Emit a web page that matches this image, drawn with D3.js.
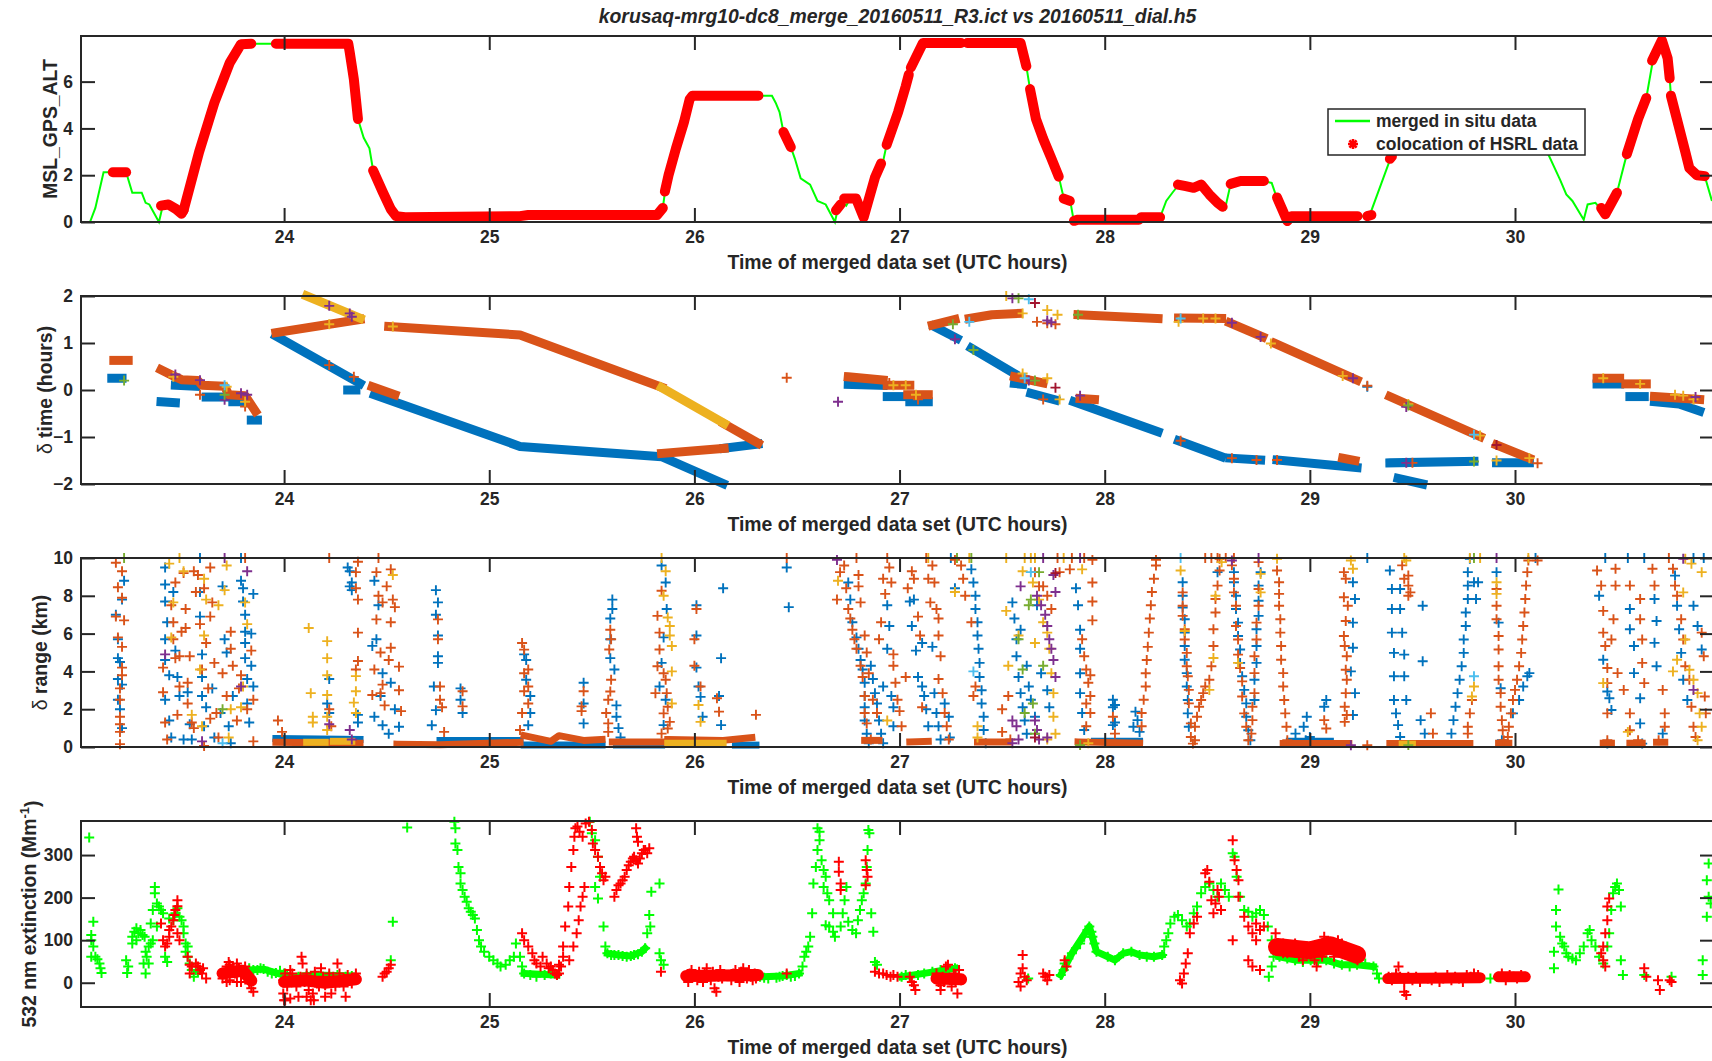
<!DOCTYPE html>
<html>
<head>
<meta charset="utf-8">
<script src="https://cdn.jsdelivr.net/npm/d3@7"></script>
<style>
html,body{margin:0;padding:0;background:#fff;}
svg{display:block;}
text{font-family:"Liberation Sans",Arial,Helvetica,sans-serif;font-weight:bold;fill:#262626;}
</style>
</head>
<body>
<svg id="chart" width="1712" height="1061"></svg>
<script>
// ---------------- texts & ticks ----------------
const chartTitle = "korusaq-mrg10-dc8_merge_20160511_R3.ict vs 20160511_dial.h5";
const xLabel = "Time of merged data set (UTC hours)";
const timeTicks = [24,25,26,27,28,29,30];
const timeRange = [23.01, 30.97];
const altTicks = [0,2,4,6];        const altRange = [0,7.95];
const dtTicks = [-2,-1,0,1,2];     const dtRange = [-2,2];
const rangeTicks = [0,2,4,6,8,10]; const rangeRange = [0,10];
const extTicks = [0,100,200,300];  const extRange = [-57,380];
const legendLabels = ["merged in situ data","colocation of HSRL data"];

// ---------------- panel 1: altitude ----------------
const altProfile = [[23.011,0],[23.054,0],[23.08,0.6],[23.12,2.13],[23.23,2.13],[23.26,1.25],[23.306,1.25],[23.325,0.82],[23.343,0.75],[23.39,0],[23.41,0.75],[23.436,0.75],[23.474,0.55],[23.5,0.35],[23.51,0.5],[23.586,3.0],[23.66,5.1],[23.735,6.8],[23.79,7.6],[23.856,7.62],[23.96,7.62],[24.313,7.62],[24.32,7.25],[24.34,6.1],[24.36,4.4],[24.388,3.6],[24.416,3.15],[24.434,2.2],[24.48,1.3],[24.52,0.55],[24.546,0.25],[24.59,0.2],[25.15,0.25],[25.19,0.3],[25.818,0.3],[25.846,0.6],[25.856,1.24],[25.874,2.0],[25.91,3.14],[25.949,4.26],[25.977,5.25],[25.99,5.4],[26.312,5.4],[26.378,5.4],[26.396,5.1],[26.415,4.7],[26.434,3.85],[26.47,3.2],[26.49,2.7],[26.518,1.87],[26.564,1.6],[26.6,0.9],[26.64,0.75],[26.685,0],[26.7,0.6],[26.713,0.9],[26.74,0.7],[26.76,1.0],[26.788,1.0],[26.825,0.2],[26.88,1.9],[26.92,2.6],[26.937,3.3],[26.993,4.7],[27.03,5.8],[27.05,6.4],[27.114,7.65],[27.59,7.65],[27.618,6.66],[27.636,5.68],[27.665,4.4],[27.7,3.56],[27.74,2.72],[27.776,1.94],[27.8,1.03],[27.832,0.9],[27.85,0],[27.87,0.1],[28.167,0.1],[28.177,0.2],[28.27,0.2],[28.3,0.9],[28.33,1.25],[28.357,1.55],[28.395,1.53],[28.433,1.46],[28.47,1.6],[28.51,1.18],[28.55,0.82],[28.586,0.54],[28.614,1.63],[28.662,1.75],[28.776,1.75],[28.814,1.67],[28.833,1.18],[28.89,0.04],[28.91,0.25],[29.232,0.25],[29.29,0.25],[29.394,2.74],[29.45,3.5],[29.7,4.3],[30.05,4.0],[30.164,2.86],[30.22,1.8],[30.25,1.18],[30.28,0.9],[30.335,0.1],[30.354,0.75],[30.392,0.82],[30.44,0.33],[30.497,1.25],[30.545,2.9],[30.6,4.4],[30.64,5.3],[30.668,6.7],[30.716,7.77],[30.744,7.0],[30.754,6.14],[30.76,5.4],[30.83,3.0],[30.85,2.3],[30.887,2.0],[30.925,1.96],[30.96,0.9]];

const hsrlSegments = [
 [[23.165,2.13],[23.23,2.13]],
 [[23.40,0.7],[23.436,0.75],[23.474,0.55],[23.5,0.35],[23.51,0.5]],
 [[23.51,0.5],[23.586,3.0],[23.66,5.1],[23.735,6.8],[23.79,7.6],[23.84,7.62]],
 [[23.96,7.62],[24.313,7.62],[24.32,7.25],[24.34,6.1],[24.36,4.4]],
 [[24.434,2.2],[24.48,1.3],[24.52,0.55],[24.546,0.25],[24.59,0.2],[25.15,0.25],[25.19,0.3],[25.818,0.3],[25.846,0.6]],
 [[25.856,1.3],[25.874,2.0],[25.91,3.14],[25.949,4.26],[25.977,5.25],[25.99,5.4],[26.312,5.4]],
 [[26.434,3.85],[26.47,3.2]],
 [[26.69,0.5],[26.713,0.75]],
 [[26.73,1.0],[26.788,1.0],[26.825,0.2],[26.88,1.9],[26.91,2.5]],
 [[26.937,3.3],[26.993,4.7],[27.03,5.8],[27.045,6.3]],
 [[27.055,6.6],[27.114,7.65],[27.3,7.65]],
 [[27.33,7.65],[27.59,7.65],[27.618,6.66]],
 [[27.636,5.68],[27.665,4.4],[27.7,3.56],[27.74,2.72],[27.776,1.94]],
 [[27.8,1.0],[27.83,0.9]],
 [[27.85,0.05],[27.87,0.1],[28.167,0.1],[28.177,0.2],[28.27,0.2]],
 [[28.357,1.6],[28.395,1.53],[28.433,1.46],[28.47,1.6],[28.51,1.18],[28.55,0.82],[28.575,0.65]],
 [[28.614,1.63],[28.662,1.75],[28.776,1.75]],
 [[28.84,1.05],[28.89,0.04],[28.91,0.25],[29.232,0.25]],
 [[29.28,0.25],[29.3,0.3]],
 [[29.39,2.7],[29.40,2.8]],
 [[30.42,0.6],[30.44,0.33],[30.497,1.25]],
 [[30.545,2.9],[30.6,4.4],[30.64,5.3]],
 [[30.668,6.9],[30.716,7.77],[30.744,7.0],[30.754,6.14]],
 [[30.76,5.4],[30.83,3.0],[30.85,2.3],[30.887,2.0],[30.925,1.96]]
];

// ---------------- panel 2: delta time ----------------
const dtBlueBands = [
 [[23.16,0.25],[23.21,0.25]],
 [[23.40,-0.25],[23.47,-0.27]],
 [[23.47,0.1],[23.57,0.08]],
 [[23.62,-0.15],[23.72,-0.15]],
 [[23.75,-0.25],[23.80,-0.25]],
 [[23.84,-0.64],[23.87,-0.64]],
 [[23.96,1.15],[24.37,0.14]],
 [[24.31,0.0],[24.35,0.0]],
 [[24.44,-0.1],[25.15,-1.2],[25.84,-1.42],[26.14,-1.99]],
 [[26.145,-1.24],[26.31,-1.15]],
 [[26.75,0.12],[26.92,0.1]],
 [[26.94,-0.14],[27.04,-0.14]],
 [[27.05,-0.25],[27.14,-0.25]],
 [[27.17,1.35],[27.28,1.1]],
 [[27.35,0.89],[27.56,0.35]],
 [[27.56,0.14],[27.6,0.12]],
 [[27.64,-0.07],[27.76,-0.21]],
 [[27.85,-0.25],[28.26,-0.89]],
 [[28.36,-1.08],[28.57,-1.42]],
 [[28.61,-1.45],[28.76,-1.49]],
 [[28.84,-1.49],[29.23,-1.65]],
 [[29.39,-1.55],[29.80,-1.52]],
 [[29.43,-1.88],[29.55,-2.0]],
 [[29.91,-1.55],[30.07,-1.55]],
 [[30.40,0.13],[30.51,0.13]],
 [[30.56,-0.14],[30.63,-0.14]],
 [[30.68,-0.25],[30.80,-0.3],[30.9,-0.45]]
];
const dtOrangeBands = [
 [[23.17,0.63],[23.24,0.63]],
 [[23.40,0.43],[23.46,0.3],[23.5,0.22],[23.58,0.2],[23.6,0.1],[23.71,0.08],[23.73,-0.1],[23.81,-0.12],[23.86,-0.45]],
 [[23.96,1.22],[24.37,1.5]],
 [[24.43,0.07],[24.54,-0.1]],
 [[24.51,1.35],[25.15,1.17],[25.84,0.06]],
 [[25.84,-1.35],[26.145,-1.24]],
 [[26.145,-0.72],[26.31,-1.13]],
 [[26.75,0.28],[26.92,0.21]],
 [[26.94,0.1],[27.05,0.1]],
 [[27.04,-0.1],[27.14,-0.1]],
 [[27.16,1.38],[27.27,1.5]],
 [[27.34,1.52],[27.45,1.6],[27.58,1.63]],
 [[27.56,0.28],[27.7,0.15]],
 [[27.87,1.6],[28.26,1.52]],
 [[27.88,-0.18],[27.95,-0.2]],
 [[28.36,1.53],[28.57,1.52]],
 [[28.61,1.43],[28.77,1.13]],
 [[28.83,0.99],[29.23,0.21]],
 [[29.16,-1.45],[29.22,-1.5]],
 [[29.39,-0.14],[29.83,-0.99]],
 [[29.91,-1.17],[30.07,-1.45]],
 [[30.40,0.25],[30.51,0.25]],
 [[30.54,0.13],[30.64,0.13]],
 [[30.68,-0.14],[30.9,-0.2]]
];
const dtYellowBands = [
 [[24.11,2.0],[24.37,1.53]],
 [[25.84,0.05],[26.145,-0.71]]
];
const dtBluePts = [[29.28,0.07]];
const dtOrangePts = [[23.59,-0.1],[23.81,-0.35],[24.22,0.53],[24.34,0.28],[26.45,0.26],[26.95,0.15],[27.09,-0.2],[27.7,-0.2],[29.28,0.09],[28.37,-1.08],[28.62,-1.45],[28.74,-1.49],[28.84,-1.49],[30.11,-1.56],[29.5,-1.55],[27.67,1.45],[27.72,1.42],[27.76,1.4]];
const dtYellowPts = [[23.46,0.28],[23.72,0.07],[23.81,-0.25],[24.22,1.4],[24.53,1.35],[27.52,2.0],[27.72,1.7],[27.77,1.6],[27.6,0.35],[27.72,0.25],[27.78,-0.2],[28.36,1.45],[28.48,1.52],[28.54,1.52],[28.81,0.99],[29.16,0.3],[29.48,-0.3],[29.83,-0.97],[29.91,-1.5],[30.07,-1.45],[30.43,0.25],[30.61,0.13],[30.78,-0.1],[30.82,-0.12],[30.87,-0.2],[26.97,0.1],[27.08,-0.1],[27.03,0.1],[27.6,1.63]];
const dtPurplePts = [[23.47,0.33],[23.59,0.21],[23.71,-0.21],[23.79,-0.07],[23.82,-0.1],[24.22,1.79],[24.32,1.63],[24.33,1.56],[26.70,-0.25],[27.27,1.08],[27.55,1.95],[27.63,0.2],[27.72,1.48],[27.74,1.44],[27.88,-0.12],[28.62,1.43],[28.76,1.13],[29.21,0.25],[29.47,-0.36],[29.47,-1.55],[30.88,-0.15]];
const dtGreenPts = [[23.22,0.2],[23.71,-0.1],[27.26,1.4],[27.36,0.85],[27.58,1.95],[27.66,0.2],[27.87,1.6],[29.48,-0.33],[29.8,-1.52]];
const dtCyanPts = [[23.71,0.1],[27.34,1.45],[27.63,1.93],[27.61,0.25],[28.37,1.52],[29.8,-0.95]];
const dtDarkRedPts = [[27.66,1.85],[27.76,0.05],[29.91,-1.17]];

// ---------------- panel 3: delta range ----------------
const rangeBlueBands = [
 [[23.96,0.45],[24.37,0.4]],[[24.76,0.35],[25.15,0.35]],[[25.17,0.1],[25.55,0.1]],[[25.62,0.1],[25.84,0.1]],[[26.2,0.1],[26.3,0.1]],[[27.95,0.3],[28.17,0.3]],[[28.9,0.3],[29.1,0.3]]
];
const rangeOrangeBands = [
 [[23.96,0.25],[24.37,0.2]],[[24.55,0.15],[24.76,0.12],[25.15,0.25]],[[25.17,0.6],[25.3,0.3],[25.34,0.6],[25.46,0.35],[25.55,0.4]],[[25.6,0.27],[25.84,0.27]],[[25.87,0.4],[26.14,0.35],[26.28,0.5]],[[26.83,0.35],[26.9,0.35]],[[27.05,0.27],[27.14,0.3]],[[27.38,0.27],[27.53,0.27]],[[27.87,0.27],[28.17,0.2]],[[28.87,0.18],[29.19,0.18]],[[29.39,0.18],[29.78,0.18]],[[29.92,0.2],[29.97,0.2]],[[30.43,0.2],[30.47,0.2]],[[30.56,0.2],[30.62,0.2]],[[30.69,0.25],[30.73,0.25]]
];
const rangeYellowBands = [
 [[24.11,0.25],[24.2,0.25]],[[24.24,0.3],[24.33,0.3]],[[25.87,0.2],[26.14,0.2]],[[29.45,0.15],[29.5,0.15]]
];
const rangeBluePts = [
 [23.22,8.8],[23.21,7.8],[23.18,7.0],[23.19,5.7],[23.19,4.7],[23.2,4.5],[23.19,3.6],[23.21,3.3],[23.19,2.5],[23.2,2.0],[23.21,1.0],
 [23.42,9.5],[23.42,8.6],[23.42,7.7],[23.43,6.6],[23.42,5.7],[23.42,4.6],[23.44,3.8],[23.42,2.5],[23.44,1.4],[23.45,0.5],[23.46,8.2],[23.47,5.1],[23.48,3.7],[23.49,2.7],[23.51,0.4],[23.53,2.9],[23.54,1.2],[23.55,0.4],[23.59,10],[23.59,8.2],[23.59,6.9],[23.6,4.9],[23.6,3.7],[23.6,2.7],[23.61,1.1],[23.62,2.1],[23.65,3.1],[23.66,0.5],[23.69,1.8],[23.7,8.5],[23.71,5.7],[23.72,5.0],[23.73,1.1],[23.74,0.2],[23.75,2.7],[23.79,10],[23.79,8.8],[23.8,8.4],[23.8,7.7],[23.81,7.0],[23.81,6.1],[23.81,5.5],[23.81,4.7],[23.82,3.6],[23.82,2.3],[23.83,1.3],[23.84,6.0],[23.84,4.3],[23.85,8.1],[23.85,3.2],
 [24.22,3.6],[24.21,2.3],[24.22,1.8],[24.36,1.7],[24.36,1.3],[24.31,9.5],[24.32,9.3],[24.33,8.7],[24.32,8.5],[24.33,8.3],
 [24.44,8.8],[24.46,7.5],[24.43,5.35],[24.45,5.7],[24.48,3.9],[24.47,2.7],[24.52,3.4],[24.54,2.0],[24.56,1.07],[24.51,0.7],[24.44,1.6],[24.48,1.15],
 [24.74,8.3],[24.75,7.65],[24.74,7.0],[24.75,5.9],[24.75,4.8],[24.75,4.45],[24.73,3.2],[24.74,1.95],[24.72,1.15],
 [24.86,3.1],[24.86,2.5],[24.87,1.8],
 [25.17,4.9],[25.18,4.6],[25.18,3.56],[25.2,2.7],[25.2,1.8],[25.19,1.15],
 [25.46,3.4],[25.46,2.3],[25.46,1.25],
 [25.6,7.8],[25.6,7.3],[25.59,6.8],[25.59,5.7],[25.59,4.7],[25.61,4.1],[25.62,2.2],[25.62,1.6],[25.63,1.0],[25.64,0.5],
 [25.84,9.6],[25.86,8.7],[25.865,7.3],[25.85,5.8],[25.84,4.45],[25.83,3.2],[25.86,2.5],[25.85,1.16],
 [26.01,7.5],[26.01,5.9],[26.01,4.2],[26.02,3.2],[26.03,2.65],[26.04,1.6],
 [26.14,8.4],[26.13,4.7],[26.12,2.7],[26.13,1.16],
 [26.45,9.5],[26.46,7.4],
 [26.75,8.7],[26.76,7.8],[26.77,6.6],[26.79,5.8],[26.8,5.2],[26.81,4.6],[26.82,4.1],[26.83,3.4],[26.83,2.7],[26.83,2.1],[26.83,1.4],[26.84,0.7],[26.85,0.2],[26.86,4.3],[26.87,3.6],[26.88,2.85],[26.89,2.3],[26.9,1.4],[26.91,0.7],[26.92,0.2],[26.94,7.5],[26.95,6.4],[26.94,5.2],[26.92,3.2],[26.96,2.7],[26.97,2.1],[26.97,1.1],[27.05,7.7],[27.06,6.4],[27.07,7.8],[27.08,5.1],[27.09,3.7],[27.11,5.5],[27.11,3.2],[27.12,2.7],[27.13,2.0],[27.14,1.1],[27.16,5.3],[27.17,2.85],[27.18,1.8],[27.19,1.1],[27.2,0.4],[27.22,2.3],[27.24,1.6],[27.245,0.5],[27.25,10],[27.27,8.4],
 [27.35,9.4],[27.36,8.7],[27.37,8.0],[27.37,7.3],[27.38,6.6],[27.38,5.9],[27.385,5.2],[27.39,4.45],[27.39,3.7],[27.4,3.0],[27.4,2.3],[27.41,1.6],[27.41,0.9],[27.42,0.2],
 [27.55,7.65],[27.56,6.8],[27.57,5.7],[27.57,4.8],[27.58,3.7],[27.59,2.85],[27.6,2.1],[27.61,1.4],[27.62,0.7],[27.63,3.2],[27.64,2.5],[27.59,6.2],[27.62,4.3],[27.67,7.5],[27.69,3.9],[27.72,3.0],[27.73,2.1],[27.66,1.6],
 [27.86,8.4],[27.87,7.5],[27.88,6.2],[27.88,5.2],[27.88,3.9],[27.88,2.85],[27.89,1.8],[27.9,0.9],[28.04,2.5],[28.04,2.1],[28.05,1.3],
 [28.05,2.22],[28.04,1.16],[28.15,1.87],[28.16,1.42],[28.17,0.8],[28.14,1.07],
 [28.38,8.72],[28.38,8.0],[28.38,7.38],[28.39,6.76],[28.39,6.05],[28.39,5.34],[28.39,4.62],[28.4,3.91],[28.4,3.2],[28.405,2.49],[28.405,1.78],[28.41,1.07],[28.55,9.25],
 [28.63,9.25],[28.63,8.72],[28.64,8.0],[28.64,7.3],[28.65,6.58],[28.65,5.87],[28.66,5.16],[28.66,4.45],[28.67,3.74],[28.68,3.02],[28.69,2.31],[28.69,1.6],[28.7,0.89],[28.71,0.36],
 [28.76,9.25],[28.75,8.54],[28.75,7.74],[28.75,6.94],[28.74,6.23],[28.74,5.34],[28.74,4.45],[28.73,3.56],[28.73,2.49],
 [28.93,0.71],[28.97,1.07],[28.985,1.6],[28.98,0.36],[29.0,0.53],[29.08,2.49],[29.07,2.13],
 [29.21,8.72],[29.22,7.83],[29.21,6.58],[29.21,5.25],[29.2,4.0],[29.22,2.85],[29.21,1.69],
 [29.28,10],[29.39,9.34],[29.4,8.36],[29.4,7.3],[29.4,6.05],[29.41,4.98],[29.41,3.74],[29.41,2.49],[29.42,1.78],[29.43,1.16],[29.44,0.53],[29.44,7.3],[29.45,6.05],[29.46,4.89],[29.46,3.74],[29.47,2.49],[29.44,8.36],[29.55,7.47],[29.55,4.54],[29.54,1.42],[29.56,0.71],
 [29.69,0.71],[29.7,1.42],[29.71,2.13],[29.72,2.85],[29.73,3.56],[29.74,4.27],[29.75,4.98],[29.75,5.69],[29.76,6.4],[29.76,7.12],[29.77,7.83],[29.77,8.54],[29.77,9.25],[29.78,9.96],[29.8,8.72],[29.81,7.83],[29.82,8.72],
 [29.91,9.25],[29.92,6.58],[29.93,3.11],[29.936,0.36],
 [29.99,1.78],[30.02,2.49],[30.04,3.2],[30.06,3.74],[30.07,3.91],[30.1,10],
 [30.44,10],[30.55,10],[30.63,10],[30.41,8.0],[30.43,4.62],[30.45,2.94],[30.46,2.58],[30.47,1.96],[30.45,0.18],[30.56,7.3],[30.56,6.23],[30.58,5.34],[30.58,3.91],[30.61,2.58],[30.61,1.25],[30.62,0.18],[30.68,7.83],[30.69,6.67],[30.68,5.51],[30.69,4.27],[30.72,0.71],[30.78,9.07],[30.79,7.47],[30.8,6.23],[30.81,4.98],[30.82,3.56],[30.84,2.49],[30.87,7.47],[30.89,6.4],[30.91,5.16],[30.92,10],[30.87,10]
];
const rangeOrangePts = [
 [23.18,9.75],[23.19,8.45],[23.21,9.3],[23.21,7.9],[23.22,6.7],[23.18,6.9],[23.19,5.8],[23.21,5.3],[23.21,4.2],[23.21,3.8],[23.2,3.1],[23.2,2.5],[23.2,1.6],[23.2,1.2],[23.2,0.8],[23.2,0.15],
 [23.41,4.2],[23.41,2.9],[23.42,1.3],[23.43,0.4],[23.45,7.5],[23.46,6.6],[23.46,5.7],[23.47,8.7],[23.47,4.7],[23.48,1.7],[23.49,3.2],[23.5,6.1],[23.51,9.2],[23.52,7.3],[23.52,6.3],[23.53,2.3],[23.53,3.4],[23.54,4.8],[23.55,1.3],[23.56,1.0],[23.57,8.2],[23.58,9.1],[23.59,6.5],[23.6,4.1],[23.61,0.05],[23.62,5.5],[23.63,3.1],[23.64,9.5],[23.64,6.9],[23.65,7.65],[23.66,4.45],[23.67,1.8],[23.68,0.5],[23.7,3.9],[23.72,2.7],[23.74,5.2],[23.74,6.1],[23.75,4.3],[23.77,1.4],[23.78,3.1],[23.79,3.8],[23.81,10],[23.82,2.0],[23.84,5.1],[23.85,2.5],[23.85,0.3],[23.49,4.8],[23.64,1.5],[23.61,8.4],[23.56,9.3],
 [23.97,1.4],[23.99,0.8],[24.22,10],[24.22,2.0],[24.23,1.1],[24.36,6.05],[24.36,4.55],[24.35,4.1],[24.36,9.8],[24.35,9.25],[24.35,8.4],[24.36,7.8],
 [24.46,10],[24.45,9.25],[24.46,8.0],[24.48,7.65],[24.5,8.5],[24.52,9.4],[24.53,7.8],[24.54,7.4],[24.45,6.75],[24.52,6.6],[24.52,5.25],[24.47,5.0],[24.44,4.1],[24.48,3.3],[24.47,2.85],[24.43,2.75],[24.51,4.6],[24.56,3.0],[24.57,1.9],[24.56,4.25],[24.49,2.2],
 [24.75,6.75],[24.75,5.7],[24.76,3.2],[24.77,2.1],[24.78,0.8],[24.76,2.5],
 [24.87,2.95],[24.87,2.15],
 [25.16,5.5],[25.17,5.15],[25.17,3.9],[25.17,2.95],[25.16,1.8],[25.15,0.9],[25.19,4.1],[25.19,3.2],[25.19,2.3],
 [25.46,2.95],[25.45,2.15],[25.45,1.9],
 [25.59,6.2],[25.594,5.7],[25.585,5.16],[25.594,3.56],[25.59,2.94],[25.58,2.5],[25.57,1.8],[25.58,1.25],[25.58,0.8],
 [25.84,8.27],[25.82,6.94],[25.83,6.05],[25.83,5.16],[25.82,4.27],[25.81,2.85],[25.85,3.9],[25.86,3.56],[25.865,2.85],[25.87,2.13],[25.88,1.33],[25.87,0.98],[25.85,1.78],[25.84,0.71],
 [26.01,7.3],[26.0,5.7],[26.0,4.3],[26.03,3.2],[26.12,1.87],[26.11,2.58],[26.3,1.7],[26.45,10],
 [26.695,7.8],[26.71,9.25],[26.73,9.6],[26.74,8.4],[26.75,7.3],[26.76,6.8],[26.77,6.2],[26.78,5.7],[26.79,5.2],[26.81,4.3],[26.82,3.7],[26.83,2.7],[26.83,1.8],[26.84,1.25],[26.86,0.4],[26.79,10],[26.8,9.1],[26.8,8.5],[26.81,7.65],[26.83,5.9],[26.84,5.0],[26.85,3.9],[26.87,2.5],[26.89,1.8],[26.9,5.7],[26.91,6.6],[26.92,8.9],[26.93,8.1],[26.94,10],[26.95,9.5],[26.96,8.7],[26.97,4.9],[26.97,4.3],[26.98,3.4],[26.99,2.5],[27.0,1.9],[27.01,1.1],[27.03,3.7],[27.04,8.4],[27.06,9.3],[27.07,8.9],[27.09,6.9],[27.1,5.9],[27.11,2.1],[27.13,10],[27.14,8.9],[27.15,7.65],[27.16,9.6],[27.17,8.7],[27.18,7.3],[27.19,6.8],[27.19,5.9],[27.2,4.8],[27.19,3.6],[27.21,2.85],[27.22,1.8],[27.23,1.1],[27.24,0.4],[27.27,9.9],[27.3,9.6],[27.31,8.9],[27.32,8.0],[27.35,6.6],[27.36,2.7],[27.37,3.2],[27.5,2.0],[27.5,0.8],[27.53,2.7],[27.54,0.4],[27.66,9.25],[27.68,8.5],[27.7,8.5],[27.72,8.0],[27.74,7.3],[27.77,10],[27.78,9.25],[27.89,5.7],[27.9,4.8],[27.91,4.1],[27.92,3.4],[27.93,2.7],[27.93,1.8],[27.91,1.1],[27.94,9.9],[27.94,8.7],[27.94,7.7],[27.94,6.7],[27.93,3.8],[27.91,2.3],[27.9,10],[27.83,9.4],[27.84,10],
 [28.04,1.6],[28.05,0.71],
 [28.18,1.1],[28.18,1.8],[28.19,2.5],[28.2,3.2],[28.2,3.9],[28.205,4.6],[28.21,5.3],[28.215,6.05],[28.22,6.8],[28.225,7.5],[28.23,8.2],[28.24,8.9],[28.25,9.6],[28.25,9.9],
 [28.38,8.18],[28.38,7.47],[28.38,6.94],[28.39,6.23],[28.39,5.69],[28.4,4.98],[28.4,4.27],[28.405,3.74],[28.41,3.02],[28.41,2.31],[28.42,1.25],[28.42,0.53],[28.43,0.18],[28.44,0.36],
 [28.44,1.07],[28.45,1.6],[28.46,2.13],[28.47,2.49],[28.48,2.85],[28.49,3.2],[28.51,3.56],[28.52,4.27],[28.53,5.34],[28.53,6.23],[28.54,7.12],[28.54,7.83],[28.55,8.54],[28.56,9.34],[28.56,9.96],
 [28.49,10],[28.52,10],[28.55,10],[28.59,10],[28.63,10],
 [28.62,9.61],[28.63,8.9],[28.63,8.18],[28.64,7.47],[28.64,6.4],[28.65,5.69],[28.65,4.89],[28.66,4.18],[28.67,3.47],[28.67,2.67],[28.68,1.78],[28.69,1.07],[28.7,0.36],
 [28.75,9.78],[28.75,8.36],[28.75,7.47],[28.74,6.58],[28.74,5.69],[28.73,4.8],[28.73,3.91],[28.73,2.85],[28.72,2.13],[28.72,1.42],[28.715,0.71],
 [28.84,9.34],[28.85,8.72],[28.85,8.1],[28.85,7.47],[28.856,6.76],[28.856,6.05],[28.86,5.34],[28.86,4.62],[28.87,3.91],[28.87,3.2],[28.875,2.49],[28.88,1.78],[28.886,1.07],[28.89,0.36],
 [29.07,1.42],[29.08,0.98],
 [29.166,9.25],[29.175,8.9],[29.166,7.92],[29.185,7.47],[29.175,6.67],[29.166,5.87],[29.17,5.34],[29.18,4.8],[29.175,4.09],[29.18,3.56],[29.175,2.85],[29.17,2.13],[29.18,1.69],[29.17,1.33],[29.28,0.09],
 [29.45,9.61],[29.48,9.07],[29.48,8.54],[29.48,8.0],[29.46,8.9],[29.49,8.18],[29.59,1.78],[29.6,0.71],
 [29.77,1.07],[29.78,1.78],[29.79,2.49],[29.77,0.71],
 [29.91,8.36],[29.91,7.47],[29.91,6.76],[29.92,5.87],[29.92,5.16],[29.92,4.27],[29.92,3.56],[29.93,2.85],[29.93,2.13],[29.936,1.42],[29.94,0.89],[29.945,0.36],
 [29.965,0.53],[29.97,1.07],[29.98,1.78],[29.99,2.49],[30.0,3.02],[30.01,3.56],[30.02,4.27],[30.03,4.98],[30.035,5.69],[30.04,6.4],[30.046,7.12],[30.05,7.83],[30.054,8.54],[30.06,9.25],[30.065,9.87],[30.11,9.87],
 [30.4,9.34],[30.42,8.54],[30.43,7.2],[30.43,6.05],[30.44,5.34],[30.45,4.18],[30.45,3.38],[30.45,1.78],[30.45,0.36],[30.49,9.43],[30.49,8.54],[30.48,6.76],[30.47,5.69],[30.5,3.91],[30.53,3.02],[30.56,8.54],[30.61,7.83],[30.61,6.76],[30.62,5.69],[30.62,4.45],[30.63,3.38],[30.56,1.78],[30.56,0.89],[30.6,0.36],[30.67,9.43],[30.68,8.54],[30.72,3.02],[30.73,1.78],[30.73,1.07],[30.7,0.36],[30.75,10],[30.77,9.43],[30.78,8.54],[30.79,8.0],[30.81,6.76],[30.82,5.69],[30.83,4.27],[30.85,3.56],[30.86,2.13],[30.87,1.07],[30.88,0.53],[30.91,6.05],[30.92,4.8],[30.925,2.67],[30.93,1.78]
];
const rangeYellowPts = [
 [23.44,9.7],[23.45,5.8],[23.46,7.65],[23.49,10],[23.51,9.3],[23.55,1.7],[23.6,1.1],[23.61,8.9],[23.61,5.9],[23.62,7.8],[23.68,7.5],[23.71,8.3],[23.72,9.6],[23.73,0.5],[23.74,2.0],[23.79,2.1],[23.81,7.65],[23.82,6.5],[23.8,3.2],[23.59,4.1],
 [24.12,6.3],[24.13,2.85],[24.14,1.3],[24.14,1.6],[24.21,5.6],[24.21,4.7],[24.21,3.8],[24.21,2.75],[24.21,1.6],[24.21,0.9],[24.35,3.75],[24.35,2.95],[24.34,2.35],[24.35,1.8],[24.53,9.1],
 [25.84,10],[25.86,9.3],[25.87,6.85],[25.88,6.4],[25.88,5.9],[25.89,5.34],[25.89,4.0],[25.89,2.3],[25.85,8.0],[26.02,2.22],[26.03,1.33],
 [26.7,8.8],[26.94,1.4],[27.14,10],[27.27,8.2],[27.34,10],[27.38,1.1],[27.52,10],[27.52,7.2],[27.53,4.3],[27.58,5.9],[27.6,9.3],[27.61,10],[27.65,8.7],[27.66,10],[27.68,7.8],[27.7,6.6],[27.72,6.05],[27.73,5.2],[27.74,3.9],[27.75,2.85],[27.75,1.6],[27.76,0.7],[27.64,10],[27.8,10],[27.89,9.4],[27.92,0.2],[27.38,0.5],[27.66,5.5],[27.72,0.4],
 [28.37,9.34],[28.39,6.14],[28.54,8.0],[28.53,4.71],[28.51,3.02],[28.57,9.78],[28.65,4.45],[28.76,9.16],[28.76,8.18],[28.84,9.96],[29.2,9.87],[29.21,9.43],[29.46,10],[29.47,9.87],[29.78,10],[29.79,2.67],[29.8,3.2],[29.83,10],[29.91,8.72],[29.91,8.1],[30.065,10],
 [30.43,3.38],[30.55,0.8],[30.77,4.0],[30.79,4.62],[30.82,8.18],[30.83,5.69],[30.85,4.09],[30.87,3.56],[30.89,2.85],[30.9,1.78],[30.91,1.07],[30.89,0.36],[30.83,9.96],[30.86,9.7],[30.91,9.25]
];
const rangePurplePts = [[23.42,4.9],[23.71,10],[23.82,9.3],[23.6,0.3],[23.79,3.2],[24.22,1.2],[24.32,0.9],[24.33,0.4],[26.695,9.9],[27.55,1.4],[27.57,1.1],[27.58,0.4],[27.59,8.5],[27.67,8.0],[27.69,7.5],[27.7,10],[27.71,7.0],[27.72,6.4],[27.73,5.7],[27.74,5.2],[27.75,4.6],[27.76,8.2],[27.75,9.1],[27.66,1.4],[27.67,0.9],[27.68,0.4],[27.76,3.7],[27.88,10],[27.72,0.5],[27.55,0.2],[28.62,9.87],[28.75,10],[29.2,0.09],[29.91,10],[30.87,3.02],[30.82,9.96]];
const rangeGreenPts = [[23.22,10],[23.7,2.0],[27.28,10],[27.35,10],[27.58,5.7],[27.6,4.1],[27.61,1.8],[27.64,7.8],[27.65,2.3],[27.66,0.7],[27.68,9.25],[27.7,4.3],[27.88,0.1],[27.63,7.5],[29.48,0.1],[29.8,10]];
const rangeCyanPts = [[23.7,0.2],[27.36,4.0],[27.64,9.25],[28.37,10],[29.8,3.74]];
const rangeDarkRedPts = [[27.76,9.2],[27.66,0.5]];

// ---------------- panel 4: extinction ----------------
const extInSituBands = [
 [[23.83,30],[23.9,32],[23.96,23],[24.03,14],[24.15,18],[24.33,16]],
 [[25.17,22],[25.33,18]],
 [[25.576,69],[25.63,65],[25.69,63],[25.744,73],[25.76,81]],
 [[26.32,14],[26.43,16],[26.51,22]],
 [[27.01,14],[27.12,22],[27.27,34]],
 [[27.786,18],[27.84,69],[27.925,132],[27.96,73],[28.015,61],[28.05,53],[28.09,69],[28.13,73],[28.17,65],[28.24,61],[28.28,65]],
 [[28.85,61],[28.93,53],[29.0,53],[29.08,53],[29.156,42],[29.23,42],[29.31,38]]
];
const extHsrlBands = [
 [[23.7,22],[23.8,28],[23.84,5]],
 [[24.0,2],[24.1,6],[24.2,0],[24.35,8]],
 [[25.96,16],[26.31,18]],
 [[27.18,10],[27.3,8]],
 [[28.84,84],[29.0,76],[29.1,88],[29.23,66]],
 [[29.38,10],[29.83,12]],
 [[29.92,14],[30.05,14]]
];
const extInSitu = [
 [23.05,341],[23.07,143],[23.06,112],[23.06,100],[23.07,85],[23.06,61],[23.08,61],[23.09,55],[23.1,45],[23.105,34],[23.11,23],
 [23.23,53],[23.24,38],[23.235,23],[23.26,92],[23.26,108],[23.27,120],[23.28,128],[23.29,116],[23.3,124],[23.31,112],[23.28,100],[23.32,108],[23.325,73],[23.33,61],[23.315,45],[23.325,22],[23.34,45],[23.34,85],[23.35,92],[23.36,100],[23.35,139],[23.36,171],[23.37,225],[23.37,210],[23.38,186],[23.39,179],[23.4,171],[23.41,163],[23.38,132],[23.42,61],[23.43,49],[23.44,151],[23.46,147],[23.47,163],[23.48,175],[23.49,155],[23.5,147],[23.51,132],[23.51,116],[23.52,92],[23.53,85],[23.52,73],[23.53,61],[23.54,45],[23.55,30],[23.56,14],[23.57,30],[23.58,26],
 [23.83,34],[23.85,30],[23.87,30],[23.885,34],[23.9,32],[23.92,26],[23.94,22],[23.96,23],[23.98,28],[24.0,22],[24.015,18],[24.03,14],[24.07,14],[24.11,16],[24.15,18],[24.18,16],[24.22,14],[24.26,18],[24.3,14],[24.33,16],
 [24.52,53],[24.53,143],[24.6,365],
 [24.83,378],[24.835,363],[24.835,327],[24.845,312],[24.85,272],[24.86,257],[24.86,233],[24.87,218],[24.88,202],[24.89,190],[24.9,175],[24.91,167],[24.92,159],[24.93,151],[24.94,124],[24.95,100],[24.96,85],[24.975,73],[25.0,61],[25.02,53],[25.04,45],[25.055,38],[25.08,42],[25.1,53],[25.12,61],[25.13,92],[25.15,61],[25.16,38],[25.17,22],[25.2,18],[25.23,14],[25.27,18],[25.3,22],[25.33,18],
 [25.49,378],[25.5,351],[25.516,335],[25.53,296],[25.54,249],[25.516,225],[25.53,198],[25.557,132],[25.566,85],[25.576,69],[25.594,65],[25.61,65],[25.63,65],[25.65,63],[25.67,61],[25.69,63],[25.706,65],[25.725,67],[25.744,73],[25.76,81],[25.77,116],[25.78,159],[25.785,132],[25.79,214],[25.83,233],[25.83,69],[25.837,53],[25.85,42],
 [26.32,14],[26.34,12],[26.36,10],[26.4,12],[26.415,14],[26.43,16],[26.45,18],[26.47,14],[26.49,16],[26.51,22],
 [26.527,38],[26.536,61],[26.545,73],[26.555,85],[26.564,108],[26.574,163],[26.58,233],[26.592,272],[26.6,312],[26.61,335],[26.6,363],[26.61,355],[26.62,288],[26.63,265],[26.64,249],[26.63,225],[26.648,210],[26.657,194],[26.676,163],[26.64,135],[26.657,132],[26.676,120],[26.685,108],[26.713,132],[26.723,163],[26.732,194],[26.741,225],[26.75,143],[26.77,124],[26.788,116],[26.797,147],[26.807,171],[26.816,194],[26.825,210],[26.835,233],[26.84,272],[26.844,312],[26.853,351],[26.848,359],[26.862,163],[26.872,120],
 [26.88,49],[26.89,42],[27.01,14],[27.03,18],[27.05,14],[27.09,18],[27.12,22],[27.16,26],[27.2,30],[27.24,31],[27.27,34],[27.627,10],
 [27.786,18],[27.8,30],[27.805,45],[27.823,57],[27.84,69],[27.86,81],[27.88,92],[27.9,108],[27.916,124],[27.925,132],[27.935,120],[27.94,108],[27.95,92],[27.96,73],
 [28.015,61],[28.05,53],[28.09,69],[28.13,73],[28.17,65],[28.205,61],[28.24,61],[28.28,65],[28.29,85],[28.3,100],[28.31,116],[28.32,139],[28.34,155],[28.357,159],[28.377,147],[28.4,132],[28.415,139],[28.434,163],[28.45,179],[28.47,210],[28.49,225],[28.51,233],[28.53,218],[28.55,202],[28.567,233],[28.586,218],[28.605,202],[28.624,304],[28.633,296],[28.643,249],[28.66,202],[28.68,171],[28.7,167],[28.72,155],[28.738,163],[28.757,171],[28.776,159],[28.795,132],[28.814,100],[28.823,61],[28.814,38],[28.8,14],[28.833,69],[28.852,61],[28.89,57],[28.928,53],[28.966,49],[29.004,53],[29.04,49],[29.08,53],[29.118,45],[29.156,42],[29.194,38],[29.23,42],[29.27,45],[29.31,38],[29.327,22],[29.337,10],[29.88,10],
 [30.212,219],[30.2,171],[30.2,132],[30.19,73],[30.19,34],[30.22,108],[30.23,92],[30.24,85],[30.25,69],[30.26,61],[30.28,57],[30.297,53],[30.316,69],[30.335,85],[30.354,116],[30.364,124],[30.373,100],[30.392,85],[30.41,61],[30.43,45],[30.45,85],[30.459,116],[30.469,171],[30.478,210],[30.488,225],[30.497,233],[30.507,218],[30.516,179],[30.516,53],[30.526,18],
 [30.63,18],[30.763,14],[30.915,18],[30.944,280],[30.935,241],[30.944,202],[30.935,155],[30.954,186],[30.915,53]
];
const extHsrl = [
 [23.4,139],[23.41,100],[23.42,85],[23.43,92],[23.44,108],[23.44,124],[23.45,132],[23.46,147],[23.465,159],[23.47,171],[23.48,180],[23.48,194],[23.49,100],[23.48,116],[23.53,61],[23.54,42],[23.55,38],[23.57,45],[23.58,38],[23.59,30],[23.6,22],[23.605,34],[23.62,10],[23.54,22],
 [23.7,10],[23.71,22],[23.72,38],[23.73,49],[23.735,42],[23.74,30],[23.75,38],[23.76,22],[23.77,45],[23.78,34],[23.79,26],[23.81,38],[23.82,22],[23.83,-2],[23.84,-13],[23.85,-21],[23.735,6],[23.77,2],[23.72,2],[23.79,2],
 [23.996,-25],[24.005,-41],[24.015,-9],[24.025,6],[24.03,30],[24.04,22],[24.05,2],[24.06,-9],[24.07,-33],[24.08,14],[24.085,61],[24.09,45],[24.1,2],[24.11,22],[24.12,-17],[24.13,2],[24.14,-25],[24.145,-41],[24.15,26],[24.16,-2],[24.17,-9],[24.18,34],[24.19,14],[24.2,-6],[24.21,2],[24.22,22],[24.23,-25],[24.24,6],[24.25,-9],[24.26,45],[24.27,22],[24.28,2],[24.29,-9],[24.3,-33],[24.31,18],[24.32,6],[24.33,-2],[24.34,10],[24.35,22],[24.0,-41],[24.03,-37],[24.11,-33],[24.13,-41],[23.996,6],[24.005,22],[24.2,-33],[24.24,14],
 [24.48,14],[24.49,22],[24.5,26],[24.51,34],[24.52,42],
 [25.16,116],[25.17,100],[25.19,85],[25.21,69],[25.22,53],[25.23,45],[25.25,38],[25.26,61],[25.28,45],[25.29,34],[25.3,38],[25.31,30],[25.32,22],[25.33,18],[25.34,42],[25.36,85],[25.37,132],[25.385,179],[25.39,225],[25.4,272],[25.41,312],[25.415,343],[25.42,363],[25.43,367],[25.44,355],[25.455,343],[25.47,374],[25.486,378],[25.5,359],[25.505,327],[25.516,312],[25.53,296],[25.54,272],[25.55,257],[25.557,241],[25.566,249],
 [25.34,22],[25.35,38],[25.36,61],[25.39,53],[25.41,85],[25.426,116],[25.436,147],[25.445,179],[25.455,202],[25.464,225],
 [25.61,202],[25.62,218],[25.63,229],[25.64,233],[25.65,241],[25.66,249],[25.67,265],[25.68,276],[25.69,284],[25.7,292],[25.706,296],[25.716,288],[25.725,280],[25.734,292],[25.744,304],[25.753,312],[25.76,312],[25.77,304],[25.78,316],[25.716,363],[25.72,343],[25.725,331],[25.837,26],
 [25.96,14],[25.97,2],[25.977,22],[25.986,30],[26.0,14],[26.014,6],[26.023,26],[26.03,18],[26.042,2],[26.05,22],[26.06,34],[26.07,14],[26.08,6],[26.09,26],[26.098,-13],[26.107,-21],[26.117,14],[26.126,30],[26.135,10],[26.18,6],[26.19,22],[26.2,30],[26.21,14],[26.22,2],[26.228,26],[26.238,34],[26.247,18],[26.256,10],[26.266,30],[26.275,14],[26.284,6],[26.294,22],[26.3,10],[26.31,18],
 [26.45,22],[26.704,284],[26.704,261],[26.713,233],[26.713,218],[26.835,288],[26.84,265],[26.844,249],[26.835,229],
 [26.88,26],[26.9,22],[26.92,22],[26.937,18],[26.956,14],[26.97,18],[26.99,14],[27.05,14],[27.06,2],[27.07,-6],[27.077,-17],
 [27.18,22],[27.19,2],[27.2,-17],[27.21,14],[27.226,38],[27.236,42],[27.245,6],[27.254,-9],[27.264,22],[27.273,2],[27.282,-25],[27.29,30],[27.3,6],[27.2,-6],[27.217,2],[27.273,18],
 [27.6,65],[27.6,34],[27.59,22],[27.58,2],[27.59,-9],[27.61,14],[27.62,6],
 [27.7,22],[27.71,14],[27.72,6],[27.73,18],[27.805,53],[27.814,38],
 [28.377,-2],[28.367,6],[28.386,22],[28.395,45],[28.405,69],[28.415,116],[28.434,139],[28.45,155],[28.49,257],[28.5,265],[28.51,237],[28.52,194],[28.53,163],[28.54,186],[28.55,218],[28.557,202],[28.567,171],[28.624,335],[28.633,288],[28.643,265],[28.652,241],[28.624,100],[28.652,202],[28.68,155],[28.7,132],[28.72,116],[28.738,100],[28.7,53],[28.72,38],[28.757,30],[28.738,139],[28.757,124],[28.776,132],
 [28.833,116],[28.843,92],[28.852,77],[28.87,69],[28.89,85],[28.91,77],[28.928,92],[28.947,61],[28.966,77],[28.985,85],[29.004,69],[29.023,53],[29.033,38],[29.04,85],[29.06,92],[29.07,108],[29.08,85],[29.1,77],[29.118,92],[29.137,100],[29.156,92],[29.175,85],[29.194,69],[29.21,61],[29.232,53],[28.966,53],[29.118,61],[29.06,61],[28.89,69],[28.87,92],
 [29.384,14],[29.4,6],[29.42,22],[29.432,38],[29.44,14],[29.46,2],[29.46,-21],[29.47,-29],[29.48,14],[29.5,6],[29.518,14],[29.537,2],[29.575,10],[29.594,6],[29.613,14],[29.632,2],[29.65,10],[29.67,18],[29.69,6],[29.708,14],[29.727,10],[29.746,2],[29.765,18],[29.784,14],[29.8,22],[29.82,18],[29.917,14],[29.936,22],[29.955,6],[29.974,18],[29.993,14],[30.01,10],[30.03,18],[30.05,14],
 [30.42,69],[30.43,53],[30.44,38],[30.43,85],[30.44,116],[30.45,147],[30.45,179],[30.459,198],
 [30.63,34],[30.64,14],[30.697,6],[30.706,-17],[30.754,6],[30.763,2]
];

// ---------------- drawing ----------------
const svg = d3.select('#chart');
const AX = '#262626';
const C = {blue:'#0072BD',orange:'#D95319',yellow:'#EDB120',purple:'#7E2F8E',green:'#77AC30',cyan:'#4DBEEE',darkred:'#A2142F'};
const x = d3.scaleLinear().domain(timeRange).range([81, 1714]);
const layout = [{top:36,bottom:222},{top:296,bottom:484},{top:558,bottom:747},{top:821,bottom:1007}];
const PLUS = 'M-5,0H5M0,-5V5';

function makePanel(i, yDomain) {
  const L = layout[i];
  const y = d3.scaleLinear().domain(yDomain).range([L.bottom, L.top]);
  const g = svg.append('g');
  return {y, g, L};
}
function drawBands(P, segs, color, w, cap) {
  const line = d3.line().x(d => x(d[0])).y(d => P.y(d[1]));
  P.g.append('g').selectAll('path').data(segs).join('path')
    .attr('d', line).attr('fill','none').attr('stroke',color)
    .attr('stroke-width', typeof w === 'function' ? w : w)
    .attr('stroke-linecap', cap || 'square').attr('stroke-linejoin','round');
}
function drawPlus(P, pts, color, sw) {
  P.g.append('g').selectAll('path').data(pts).join('path')
    .attr('transform', d => `translate(${x(d[0])},${P.y(d[1])})`)
    .attr('d', PLUS).attr('fill','none').attr('stroke',color).attr('stroke-width', sw || 1.9);
}
function drawAxes(P, ticks) {
  const L = P.L;
  const g = svg.append('g');
  const styleAxis = sel => {
    sel.select('.domain').remove();
    sel.selectAll('.tick line').attr('stroke', AX).attr('stroke-width', 2);
    sel.selectAll('.tick text').attr('fill', AX).style('font-size','17.5px').style('font-weight','bold')
      .style('font-family','"Liberation Sans",Arial,sans-serif');
  };
  g.append('g').attr('transform',`translate(0,${L.bottom})`)
    .call(d3.axisBottom(x).tickValues(timeTicks).tickSize(-14).tickPadding(9).tickFormat(d3.format('d'))).call(styleAxis);
  g.append('g').attr('transform',`translate(0,${L.top})`)
    .call(d3.axisTop(x).tickValues(timeTicks).tickSize(-14).tickFormat('')).call(styleAxis);
  g.append('g').attr('transform',`translate(${x.range()[0]},0)`)
    .call(d3.axisLeft(P.y).tickValues(ticks).tickSize(-14).tickPadding(8).tickFormat(d3.format('d'))).call(styleAxis);
  g.append('g').attr('transform',`translate(${x.range()[1]},0)`)
    .call(d3.axisRight(P.y).tickValues(ticks).tickSize(-14).tickFormat('')).call(styleAxis);
  g.append('rect').attr('x', x.range()[0]).attr('y', L.top)
    .attr('width', x.range()[1]-x.range()[0]).attr('height', L.bottom-L.top)
    .attr('fill','none').attr('stroke', AX).attr('stroke-width', 2);
  g.append('text').attr('x', (x.range()[0]+x.range()[1])/2).attr('y', L.bottom + 47)
    .attr('text-anchor','middle').style('font-size','19.4px').text(xLabel);
}
function yLabel(P, cx, build) {
  const t = svg.append('text')
    .attr('transform', `translate(${cx},${(P.L.top+P.L.bottom)/2}) rotate(-90)`)
    .attr('text-anchor','middle').attr('dy','0.35em').style('font-size','19.4px');
  build(t);
}

// title
svg.append('text').attr('x', (x.range()[0]+x.range()[1])/2).attr('y', 23)
  .attr('text-anchor','middle').style('font-size','19.4px').style('font-style','italic').text(chartTitle);

// panel 1
const P1 = makePanel(0, altRange);
P1.g.append('path').datum(altProfile)
  .attr('d', d3.line().x(d => x(d[0])).y(d => P1.y(d[1])))
  .attr('fill','none').attr('stroke','#00FF00').attr('stroke-width',2);
drawBands(P1, hsrlSegments, '#FF0000', 10, 'round');
drawAxes(P1, altTicks);
yLabel(P1, 50, t => t.text('MSL_GPS_ALT'));
// legend
const lg = svg.append('g');
lg.append('rect').attr('x',1328).attr('y',109).attr('width',257).attr('height',46)
  .attr('fill','#fff').attr('stroke','#262626').attr('stroke-width',1.5);
lg.append('line').attr('x1',1335).attr('x2',1370).attr('y1',121).attr('y2',121)
  .attr('stroke','#00FF00').attr('stroke-width',2.5);
lg.append('path').attr('transform','translate(1353,144)')
  .attr('d','M-5,0H5M0,-5V5M-3.6,-3.6L3.6,3.6M-3.6,3.6L3.6,-3.6')
  .attr('stroke','#FF0000').attr('stroke-width',2.6).attr('fill','none');
lg.append('text').attr('x',1376).attr('y',127).style('font-size','17.5px').text(legendLabels[0]);
lg.append('text').attr('x',1376).attr('y',150).style('font-size','17.5px').text(legendLabels[1]);

// panel 2
const P2 = makePanel(1, dtRange);
drawBands(P2, dtBlueBands, C.blue, 9);
drawPlus(P2, dtBluePts, C.blue);
drawBands(P2, dtOrangeBands, C.orange, 9);
drawPlus(P2, dtOrangePts, C.orange);
drawBands(P2, dtYellowBands, C.yellow, 9);
drawPlus(P2, dtYellowPts, C.yellow);
drawPlus(P2, dtPurplePts, C.purple);
drawPlus(P2, dtGreenPts, C.green);
drawPlus(P2, dtCyanPts, C.cyan);
drawPlus(P2, dtDarkRedPts, C.darkred);
drawAxes(P2, dtTicks);
yLabel(P2, 45, t => { t.append('tspan').style('font-weight','normal').text('δ'); t.append('tspan').text(' time (hours)'); });

// panel 3
const P3 = makePanel(2, rangeRange);
drawBands(P3, rangeBlueBands, C.blue, 7);
drawPlus(P3, rangeBluePts, C.blue);
drawBands(P3, rangeOrangeBands, C.orange, 7);
drawPlus(P3, rangeOrangePts, C.orange);
drawBands(P3, rangeYellowBands, C.yellow, 7);
drawPlus(P3, rangeYellowPts, C.yellow);
drawPlus(P3, rangePurplePts, C.purple);
drawPlus(P3, rangeGreenPts, C.green);
drawPlus(P3, rangeCyanPts, C.cyan);
drawPlus(P3, rangeDarkRedPts, C.darkred);
drawAxes(P3, rangeTicks);
yLabel(P3, 40, t => { t.append('tspan').style('font-weight','normal').text('δ'); t.append('tspan').text(' range (km)'); });

// panel 4
const P4 = makePanel(3, extRange);
drawBands(P4, extInSituBands, '#00FF00', 7);
drawPlus(P4, extInSitu, '#00FF00', 2);
drawBands(P4, extHsrlBands.slice(0,4), '#FF0000', 12, 'round');
drawBands(P4, extHsrlBands.slice(4,5), '#FF0000', 18, 'round');
drawBands(P4, extHsrlBands.slice(5), '#FF0000', 11, 'round');
drawPlus(P4, extHsrl, '#FF0000', 2);
drawAxes(P4, extTicks);
yLabel(P4, 29, t => {
  t.append('tspan').text('532 nm extinction (Mm');
  t.append('tspan').attr('dy','-0.55em').style('font-size','13px').text('-1');
  t.append('tspan').attr('dy','0.55em').text(')');
});
</script>
</body>
</html>
